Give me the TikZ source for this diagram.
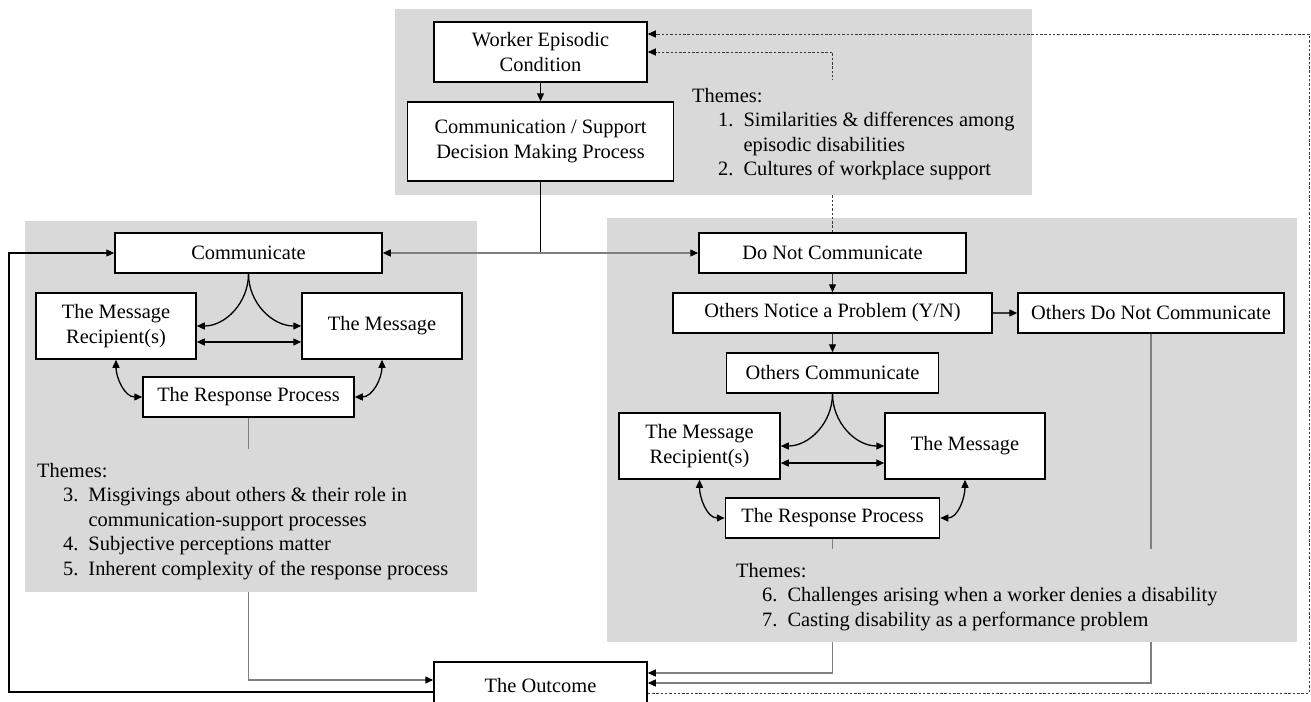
\documentclass[tikz,border=0pt]{standalone}
\usepackage{fontspec}
\setmainfont{Liberation Serif}
\usetikzlibrary{arrows.meta}
\definecolor{panel}{HTML}{D9D9D9}
\definecolor{lgray}{HTML}{7F7F7F}
\definecolor{dgray}{HTML}{3A3A3A}
\begin{document}
\begin{tikzpicture}[x=1pt,y=1pt,
  font=\fontsize{20.4}{24.5}\selectfont,
  tk/.tip={Triangle[length=8pt,width=7pt,color=black]},
  box/.style={draw=black, fill=white, line width=1.5pt, align=center, inner sep=0pt},
  conn/.style={line width=1.3pt, draw=black},
  conn2/.style={line width=1.3pt, draw=dgray},
  grayconn/.style={line width=1.3pt, draw=lgray},
  dline/.style={line width=0.9pt, draw=dgray, dash pattern=on 2.5pt off 1.8pt},
  themes/.style={anchor=base west, inner sep=0pt, align=left}]
\useasboundingbox (0,0) rectangle (1311,-701);
% panels
\fill[panel] (395,-9) rectangle (1032,-195);
\fill[panel] (25,-221) rectangle (477,-592);
\fill[panel] (607,-218) rectangle (1297,-642);
% boxes
\node[box, minimum width=213pt, minimum height=60pt] (worker) at (540.5,-52) {Worker Episodic\\Condition};
\node[box, minimum width=266pt, minimum height=79pt] (cdm) at (540.5,-141.5) {Communication / Support\\Decision Making Process};
\node[box, minimum width=267pt, minimum height=40pt] (comm) at (248.5,-253) {Communicate};
\node[box, minimum width=160pt, minimum height=66pt] (rec1) at (116,-326) {The Message\\Recipient(s)};
\node[box, minimum width=160pt, minimum height=66pt] (msg1) at (382,-326) {The Message};
\node[box, minimum width=211pt, minimum height=40pt] (resp1) at (248.5,-397) {The Response Process};
\node[box, minimum width=267pt, minimum height=40pt] (dnc) at (832.5,-253) {Do Not Communicate};
\node[box, minimum width=319pt, minimum height=40pt] (onp) at (832.5,-313) {Others Notice a Problem (Y/N)};
\node[box, minimum width=266pt, minimum height=40pt] (odnc) at (1151,-313) {Others Do Not Communicate};
\node[box, minimum width=212pt, minimum height=40pt] (oc) at (832.5,-373) {Others Communicate};
\node[box, minimum width=161pt, minimum height=66pt] (rec2) at (699.5,-446) {The Message\\Recipient(s)};
\node[box, minimum width=160pt, minimum height=66pt] (msg2) at (965,-446) {The Message};
\node[box, minimum width=214pt, minimum height=40pt] (resp2) at (832.5,-518) {The Response Process};
\node[box, minimum width=213pt, minimum height=48pt] (outcome) at (540.5,-686) {The Outcome};
\coordinate (fbk) at (9,-692);
\coordinate (dR) at (1309,-693);
% connectors
\draw[conn,-tk] (worker.south) -- (cdm.north);
\draw[conn] (cdm.south) -- (cdm.south |- comm.east);
\draw[grayconn,tk-tk] (comm.east) -- (dnc.west);
\draw[conn2,-tk] (dnc.south) -- (onp.north);
\draw[conn2,-tk] (onp.east) -- (odnc.west);
\draw[conn2,-tk] (onp.south) -- (oc.north);
% left cluster
\draw[conn,-tk] (comm.south) to[out=-90,in=0] (rec1.east);
\draw[conn,-tk] (comm.south) to[out=-90,in=180] (msg1.west);
\draw[conn,tk-tk] ([yshift=-16pt]rec1.east) -- ([yshift=-16pt]msg1.west);
\draw[conn,tk-tk] (rec1.south) to[out=-90,in=180] (resp1.west);
\draw[conn,tk-tk] (msg1.south) to[out=-90,in=0] (resp1.east);
% right cluster
\draw[conn,-tk] (oc.south) to[out=-90,in=0] (rec2.east);
\draw[conn,-tk] (oc.south) to[out=-90,in=180] (msg2.west);
\draw[conn,tk-tk] ([yshift=-17pt]rec2.east) -- ([yshift=-17pt]msg2.west);
\draw[conn,tk-tk] (rec2.south) to[out=-90,in=180] (resp2.west);
\draw[conn,tk-tk] (msg2.south) to[out=-90,in=0] (resp2.east);
% to outcome
\draw[grayconn,-tk] (resp1.south) |- ([yshift=6pt]outcome.west);
\draw[grayconn,-tk] (resp2.south) |- ([yshift=13pt]outcome.east);
\draw[grayconn,-tk] (odnc.south) |- ([yshift=3pt]outcome.east);
\draw[conn,-tk] ([yshift=-6pt]outcome.west) -- (fbk) |- (comm.west);
\draw[dline,-tk] ([yshift=-7pt]outcome.east) -- (dR) |- ([yshift=18pt]worker.east);
\draw[dline,-tk] (dnc.north) |- (worker.east);
% covers behind theme texts
\fill[panel] (683,-80) rectangle (1032,-195);
\fill[panel] (25,-449) rectangle (477,-592);
\fill[panel] (607,-549) rectangle (1297,-642);
% themes
\node[themes] (th1) at (692,-102) {\begin{tabular}[t]{@{}l@{}}Themes:\\\hspace*{26pt}\begin{tabular}[t]{@{}l@{\hspace{10pt}}l@{}}1.&Similarities \& differences among\\&episodic disabilities\\2.&Cultures of workplace support\end{tabular}\end{tabular}};
\node[themes] (th2) at (37,-477) {\begin{tabular}[t]{@{}l@{}}Themes:\\\hspace*{26pt}\begin{tabular}[t]{@{}l@{\hspace{10pt}}l@{}}3.&Misgivings about others \& their role in\\&communication-support processes\\4.&Subjective perceptions matter\\5.&Inherent complexity of the response process\end{tabular}\end{tabular}};
\node[themes] (th3) at (736,-577) {\begin{tabular}[t]{@{}l@{}}Themes:\\\hspace*{26pt}\begin{tabular}[t]{@{}l@{\hspace{10pt}}l@{}}6.&Challenges arising when a worker denies a disability\\7.&Casting disability as a performance problem\end{tabular}\end{tabular}};
\end{tikzpicture}
\end{document}
